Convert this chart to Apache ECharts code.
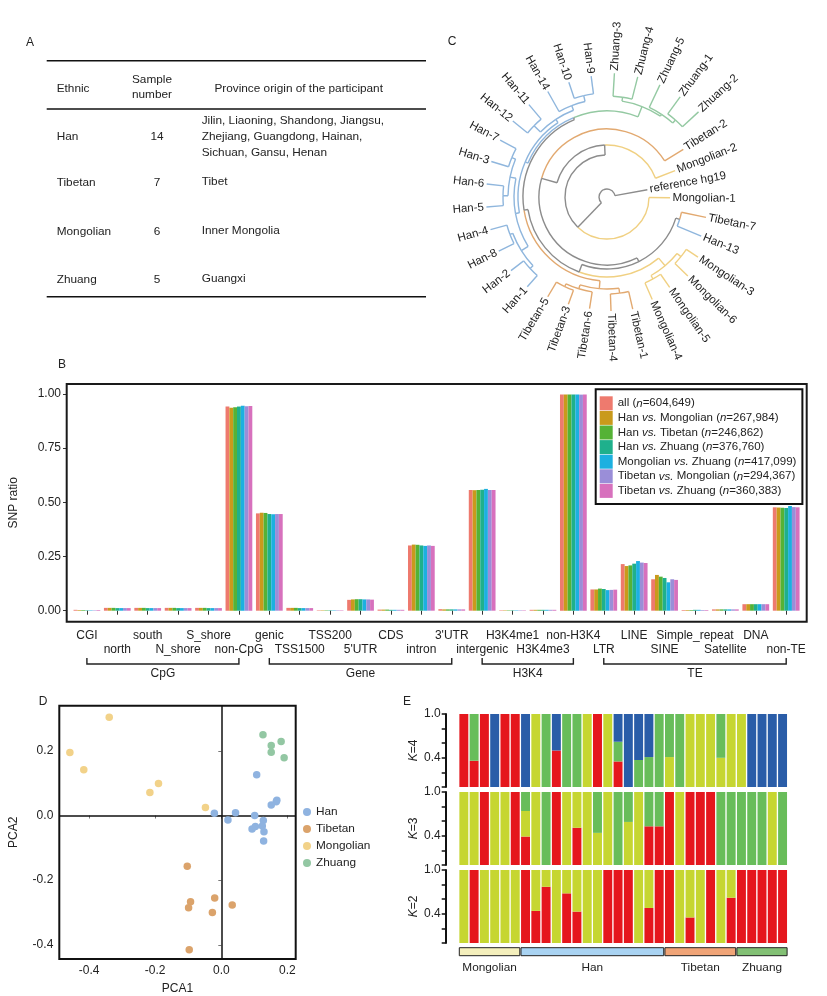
<!DOCTYPE html>
<html><head><meta charset="utf-8">
<script src="https://cdn.jsdelivr.net/npm/echarts@6/dist/echarts.min.js"></script>
<style>html,body{margin:0;padding:0;background:#fff}#c{width:827px;height:996px}</style>
</head><body><div id="c"></div>
<script>
const FF = '"Liberation Sans", Arial, Helvetica, sans-serif';

// ---------- Panel A: table ----------
const tableHeader = ['Ethnic', 'Sample\nnumber', 'Province origin of the participant'];
const tableEthnic = ['Han', 'Tibetan', 'Mongolian', 'Zhuang'];
const tableSamples = ['14', '7', '6', '5'];
const tableProvince = ['Jilin, Liaoning, Shandong, Jiangsu,\nZhejiang, Guangdong, Hainan,\nSichuan, Gansu, Henan', 'Tibet', 'Inner Mongolia', 'Guangxi'];

// ---------- Panel B: SNP ratio bars ----------
const bCategories = ['CGI','north','south','N_shore','S_shore','non-CpG','genic','TSS1500','TSS200',"5'UTR",'CDS','intron',"3'UTR",'intergenic','H3K4me1','H3K4me3','non-H3K4','LTR','LINE','SINE','Simple_repeat','Satellite','DNA','non-TE'];
const bSeriesNames = ['all (n=604,649)','Han vs. Mongolian (n=267,984)','Han vs. Tibetan (n=246,862)','Han vs. Zhuang (n=376,760)','Mongolian vs. Zhuang (n=417,099)','Tibetan vs. Mongolian (n=294,367)','Tibetan vs. Zhuang (n=360,383)'];
const bColors = ['#ee7a6e','#c99a1c','#55b236','#1fb08c','#1cb0e0','#9a8ed8','#d771bd'];
const snpAll    = [0.004,0.013,0.013,0.013,0.013,0.942,0.449,0.013,0.002,0.050,0.005,0.301,0.007,0.557,0.002,0.004,0.997,0.098,0.215,0.145,0.003,0.006,0.030,0.477];
const snpHanMon = [0.003,0.013,0.013,0.013,0.013,0.936,0.452,0.013,0.002,0.052,0.005,0.305,0.006,0.556,0.002,0.004,0.997,0.098,0.206,0.165,0.003,0.006,0.030,0.476];
const snpHanTib = [0.003,0.013,0.013,0.013,0.013,0.939,0.451,0.013,0.002,0.053,0.005,0.304,0.006,0.557,0.002,0.004,0.997,0.102,0.209,0.157,0.003,0.006,0.030,0.475];
const snpHanZhu = [0.002,0.012,0.012,0.012,0.012,0.942,0.446,0.012,0.002,0.053,0.004,0.301,0.006,0.558,0.002,0.004,0.997,0.100,0.217,0.151,0.004,0.006,0.030,0.474];
const snpMonZhu = [0.002,0.012,0.012,0.012,0.012,0.946,0.445,0.012,0.002,0.052,0.004,0.299,0.006,0.562,0.002,0.004,0.997,0.095,0.229,0.131,0.004,0.006,0.030,0.483];
const snpTibMon = [0.002,0.012,0.012,0.012,0.012,0.943,0.446,0.012,0.002,0.052,0.004,0.301,0.006,0.557,0.002,0.004,0.997,0.096,0.222,0.145,0.003,0.006,0.030,0.478];
const snpTibZhu = [0.003,0.012,0.012,0.012,0.012,0.945,0.446,0.012,0.002,0.051,0.004,0.299,0.006,0.557,0.002,0.004,0.997,0.097,0.220,0.142,0.003,0.006,0.030,0.477];
const bValues = [snpAll, snpHanMon, snpHanTib, snpHanZhu, snpMonZhu, snpTibMon, snpTibZhu];
const bTicks = [0, 0.25, 0.5, 0.75, 1];
const bGroups = [[0, 5, 'CpG'], [6, 12, 'Gene'], [13, 16, 'H3K4'], [17, 23, 'TE']];

// ---------- Panel C: circular tree ----------
const treeLeaves = ['Mongolian-1','Tibetan-7','Han-13','Mongolian-3','Mongolian-6','Mongolian-5','Mongolian-4','Tibetan-1','Tibetan-4','Tibetan-6','Tibetan-3','Tibetan-5','Han-1','Han-2','Han-8','Han-4','Han-5','Han-6','Han-3','Han-7','Han-12','Han-11','Han-14','Han-10','Han-9','Zhuang-3','Zhuang-4','Zhuang-5','Zhuang-1','Zhuang-2','Tibetan-2','Mongolian-2','reference hg19'];
const leafDepth = [63,101,102,109,113,110,112,115,114,113,114,116, 120,121,121,121,121,121,121,121,121,121,121,121,122, 124,124,124,124,125, 90,73,41];
// [nodeDepth, child, child]
const treeTopology =
[8, 'reference hg19',
 [42, 'Mongolian-1',
  [52, 'Mongolian-2',
   [68, 'Tibetan-2',
    [72,
     [76, 'Tibetan-7', 'Han-13'],
     [80,
      [90, [95, 'Mongolian-3', 'Mongolian-6'], [94, 'Mongolian-5', 'Mongolian-4']],
      [84,
       [92, [97, 'Tibetan-1', 'Tibetan-4'], [96, 'Tibetan-6', [99, 'Tibetan-3', 'Tibetan-5']]],
       [86,
        [89,
         [93, [101, [105, 'Han-1', 'Han-2'], [104, 'Han-8', 'Han-4']], [99, [104, 'Han-5', 'Han-6'], [103, 'Han-3', 'Han-7']]],
         [93, [102, 'Han-12', 'Han-11'], [98, 'Han-14', [104, 'Han-10', 'Han-9']]]
        ],
        [97, [101, 'Zhuang-3', 'Zhuang-4'], [99, 'Zhuang-5', [103, 'Zhuang-1', 'Zhuang-2']]]
       ]
      ]
     ]
    ]
   ]
  ]
 ]
];
const treeColors = {Han:'#8fb6dd', Zhuang:'#94c9a2', Tibetan:'#e2a970', Mongolian:'#f0d082', reference:'#8c8c8c'};
const treeGray = '#8c8c8c';

// ---------- Panel D: PCA ----------
const pcaHan = [[0.107,0.126],[0.168,0.047],[0.166,0.043],[0.151,0.033],[-0.021,0.007],[0.043,0.009],[0.020,-0.014],[0.101,0.000],[0.127,-0.015],[0.093,-0.042],[0.103,-0.034],[0.124,-0.032],[0.129,-0.050],[0.128,-0.079]];
const pcaTibetan = [[-0.103,-0.157],[-0.093,-0.267],[-0.099,-0.285],[-0.020,-0.255],[-0.027,-0.300],[0.033,-0.277],[-0.097,-0.415]];
const pcaMongolian = [[-0.339,0.304],[-0.458,0.195],[-0.416,0.142],[-0.190,0.099],[-0.216,0.071],[-0.048,0.025]];
const pcaZhuang = [[0.126,0.250],[0.151,0.217],[0.151,0.196],[0.181,0.229],[0.190,0.179]];
const pcaNames = ['Han','Tibetan','Mongolian','Zhuang'];
const pcaColors = ['#8fb3e0','#dba36b','#f2d289','#93c7a3'];
const pcaTicks = [-0.4, -0.2, 0, 0.2];

// ---------- Panel E: admixture ----------
const admixSamples = Array.from({length: 32}, (_, i) => 'S' + (i + 1));
const k4Red    = [1,.36,1,0,1,1, 0,0,0,.5,0,0,0,1,0,.35,0,0,0,0, 0,0,0,0,0,0,0, 0,0,0,0,0];
const k4Yellow = [0,0,0,0,0,0, 0,1,0,0,0,0,1,0,1,0,0,0,0,0, .41,0,1,1,1,.40,1, 1,0,0,0,0];
const k4Green  = [0,.64,0,0,0,0, 0,0,1,0,1,1,0,0,0,.27,0,.37,.41,1, .59,1,0,0,0,.60,0, 0,0,0,0,0];
const k4Blue   = [0,0,0,1,0,0, 1,0,0,.5,0,0,0,0,0,.38,1,.63,.59,0, 0,0,0,0,0,0,0, 0,1,1,1,1];
const k3Red    = [0,0,1,0,0,1, .39,0,0,1,0,.51,0,0,0,0,0,0,.53,.53, 1,0,1,1,1,0,0, 0,0,0,0,0];
const k3Yellow = [1,1,0,1,1,0, .35,1,0,0,1,.49,1,.44,1,0,.59,1,0,0, 0,1,0,0,0,0,0, 0,0,0,1,0];
const k3Green  = [0,0,0,0,0,0, .26,0,1,0,0,0,0,.56,0,1,.41,0,.47,.47, 0,0,0,0,0,1,1, 1,1,1,0,1];
const k2Red    = [0,1,0,0,0,0, 1,.44,.77,0,.68,.43,0,0,1,1,1,0,.48,1, 1,0,.35,0,1,0,.62, 1,1,1,1,1];
const k2Yellow = [1,0,1,1,1,1, 0,.56,.23,1,.32,.57,1,1,0,0,0,1,.52,0, 0,1,.65,1,0,1,.38, 0,0,0,0,0];
const admixColors = {red:'#e5171d', yellow:'#c6d631', green:'#68bd5a', blue:'#2a5da8'};
const admixGroups = [[0, 5, 'Mongolian'], [6, 19, 'Han'], [20, 26, 'Tibetan'], [27, 31, 'Zhuang']];
const admixGroupColors = ['#f4efbc', '#a9d3f2', '#f0a477', '#82c074'];

// ---------- tree layout (topology -> edges) ----------
function leafGroup(name) { return name.split(/[- ]/)[0]; }
const treeEdges = [];
function layoutTree(node) {
  if (typeof node === 'string') {
    const i = treeLeaves.indexOf(node);
    return {slot: i + 1, depth: leafDepth[i], groups: new Set([leafGroup(node)])};
  }
  const kids = node.slice(1).map(layoutTree);
  const slot = kids.reduce((s, k) => s + k.slot, 0) / kids.length;
  const groups = new Set();
  kids.forEach(k => k.groups.forEach(g => groups.add(g)));
  kids.forEach(k => {
    const col = k.groups.size === 1 ? treeColors[[...k.groups][0]] : treeGray;
    treeEdges.push({pDepth: node[0], pSlot: slot, depth: k.depth, slot: k.slot, color: col});
  });
  return {slot, depth: node[0], groups};
}
layoutTree(treeTopology);

function renderEdge(params, api) {
  const e = treeEdges[api.value(2)];
  const cs = params.coordSys;
  const cx = cs.cx, cy = cs.cy;
  const p0 = api.coord([e.pDepth, e.slot]);
  const p1 = api.coord([e.depth, e.slot]);
  const st = {stroke: e.color, lineWidth: 1.4, fill: null};
  const children = [{type: 'line', shape: {x1: p0[0], y1: p0[1], x2: p1[0], y2: p1[1]}, style: st}];
  const q = api.coord([e.pDepth, e.pSlot]);
  const r = Math.hypot(p0[0] - cx, p0[1] - cy);
  if (r > 0.5) {
    const aC = Math.atan2(p0[1] - cy, p0[0] - cx);
    const aP = Math.atan2(q[1] - cy, q[0] - cx);
    let start = e.slot < e.pSlot ? aC : aP;
    let end = e.slot < e.pSlot ? aP : aC;
    while (end < start) end += 2 * Math.PI;
    children.push({type: 'arc', shape: {cx, cy, r, startAngle: start, endAngle: end, clockwise: true}, style: st});
  }
  return {type: 'group', children};
}
function renderLeaf(params, api) {
  const i = api.value(2);
  const cs = params.coordSys;
  const p = api.coord([api.value(0), api.value(1)]);
  const a = Math.atan2(p[1] - cs.cy, p[0] - cs.cx);
  const left = Math.cos(a) < -0.001;
  return {type: 'text', x: p[0], y: p[1], rotation: left ? Math.PI - a : -a,
    style: {text: treeLeaves[i], align: left ? 'right' : 'left', verticalAlign: 'middle', fontSize: 11.5, fontFamily: FF, fill: '#222'}};
}

// ---------- graphic: table, panel letters, frame ----------
const graphic = [];
const tLine = (y) => ({type: 'line', shape: {x1: 46.7, y1: y, x2: 426, y2: y}, style: {stroke: '#111', lineWidth: 1.6}});
graphic.push(tLine(60.7), tLine(109), tLine(296.7));
const txt = (t, x, y, align) => ({type: 'text', x, y, style: {text: t, align: align || 'left', verticalAlign: 'middle', fontSize: 11.8, fontFamily: FF, fill: '#222', lineHeight: 15.7}});
graphic.push(txt(tableHeader[0], 56.7, 89), txt(tableHeader[1], 152, 87.2, 'center'), txt(tableHeader[2], 298.7, 89, 'center'));
const rowY = [137, 182.5, 231.3, 280];
tableEthnic.forEach((e, i) => {
  graphic.push(txt(e, 56.7, rowY[i]));
  graphic.push(txt(tableSamples[i], 157, rowY[i], 'center'));
  const g = txt(tableProvince[i], 201.7, rowY[i] - (i === 0 ? 0.5 : 1), 'left');
  g.style.lineHeight = 16;
  graphic.push(g);
});
[['A', 30, 43], ['B', 62, 365], ['C', 452, 42], ['D', 43, 702], ['E', 407, 702]].forEach(l => {
  graphic.push({type: 'text', x: l[1], y: l[2], style: {text: l[0], align: 'center', verticalAlign: 'middle', fontSize: 12, fontFamily: FF, fill: '#222'}});
});
graphic.push({type: 'rect', shape: {x: 66.7, y: 384, width: 740, height: 237.7}, style: {fill: null, stroke: '#1a1a1a', lineWidth: 2}, z: 10});

// ---------- series ----------
const series = [];
bValues.forEach((vals, i) => {
  series.push({name: bSeriesNames[i], type: 'bar', xAxisIndex: 0, yAxisIndex: 0, data: vals,
    itemStyle: {color: bColors[i]}, barGap: '0%', barCategoryGap: '12%', silent: true});
});
series.push({type: 'custom', name: 'brackets', xAxisIndex: 0, yAxisIndex: 0, clip: false, silent: true,
  data: bGroups.map((g, i) => [g[0], g[1], i]),
  renderItem: (params, api) => {
    const g = bGroups[api.value(2)];
    const a = api.coord([g[0], 0]), b = api.coord([g[1], 0]);
    const y = 664;
    return {type: 'group', children: [
      {type: 'polyline', shape: {points: [[a[0], y - 6], [a[0], y], [b[0], y], [b[0], y - 6]]}, style: {stroke: '#222', lineWidth: 1.4, fill: null}},
      {type: 'text', x: (a[0] + b[0]) / 2, y: y + 9.5, style: {text: g[2], align: 'center', verticalAlign: 'middle', fontSize: 12, fontFamily: FF, fill: '#222'}}
    ]};
  }});

// PCA
[pcaHan, pcaTibetan, pcaMongolian, pcaZhuang].forEach((d, i) => {
  const s = {name: pcaNames[i], type: 'scatter', xAxisIndex: 1, yAxisIndex: 1, data: d, symbolSize: 7.5,
    itemStyle: {color: pcaColors[i], opacity: 1}, silent: true, z: 3};
  if (i === 0) {
    s.markLine = {silent: true, symbol: 'none', label: {show: false}, lineStyle: {color: '#111', type: 'solid', width: 1.5},
      data: [{xAxis: 0}, {yAxis: 0}], z: 2};
  }
  series.push(s);
});

// Admixture
const admixRows = [
  [k4Red, k4Yellow, k4Green, k4Blue],
  [k3Red, k3Yellow, k3Green],
  [k2Red, k2Yellow]
];
const admixColorOrder = ['red', 'yellow', 'green', 'blue'];
admixRows.forEach((row, r) => {
  row.forEach((vals, c) => {
    series.push({name: 'K' + r + admixColorOrder[c], type: 'bar', stack: 'k' + r, xAxisIndex: 2 + r, yAxisIndex: 2 + r,
      data: vals, itemStyle: {color: admixColors[admixColorOrder[c]]}, barCategoryGap: '13%', silent: true});
  });
});
series.push({type: 'custom', name: 'groups', xAxisIndex: 4, yAxisIndex: 4, clip: false, silent: true,
  data: admixGroups.map((g, i) => [g[0], 0, g[1], i]),
  renderItem: (params, api) => {
    const gi = api.value(3);
    const g = admixGroups[gi];
    const band = api.size([1, 0])[0];
    const p1 = api.coord([g[0], 0]), p2 = api.coord([g[1], 0]);
    const x1 = p1[0] - band / 2 + 0.6, x2 = p2[0] + band / 2 - 0.6;
    const y = p1[1] + 4.7;
    return {type: 'group', children: [
      {type: 'rect', shape: {x: x1, y: y, width: x2 - x1, height: 8}, style: {fill: admixGroupColors[gi], stroke: '#222', lineWidth: 1}},
      {type: 'text', x: (x1 + x2) / 2, y: y + 20.5, style: {text: g[2], align: 'center', verticalAlign: 'middle', fontSize: 11.8, fontFamily: FF, fill: '#222'}}
    ]};
  }});

// Tree
series.push({type: 'custom', name: 'tree', coordinateSystem: 'polar', polarIndex: 0, clip: false, silent: true,
  data: treeEdges.map((e, i) => [e.depth, e.slot, i]), renderItem: renderEdge});
series.push({type: 'custom', name: 'leaves', coordinateSystem: 'polar', polarIndex: 0, clip: false, silent: true,
  data: treeLeaves.map((n, i) => [leafDepth[i] + 2.5, i + 1, i]), renderItem: renderLeaf});

// ---------- axes ----------
const axisText = {fontSize: 12, fontFamily: FF, color: '#222'};
const eGrids = [714, 792, 870].map(t => ({left: 458.7, width: 329, top: t, height: 73}));
const kNames = ['{i|K}=4', '{i|K}=3', '{i|K}=2'];

const option = {
  backgroundColor: '#fff',
  animation: false,
  textStyle: {fontFamily: FF},
  graphic: graphic,
  grid: [
    {left: 71.4, width: 730, top: 384, height: 237.7},
    {left: 59.3, width: 236.4, top: 705.7, height: 253.6, show: true, borderColor: '#111', borderWidth: 2, backgroundColor: 'transparent'}
  ].concat(eGrids),
  polar: [{center: [607, 197], radius: 130}],
  radiusAxis: [{polarIndex: 0, type: 'value', min: 0, max: 130, show: false}],
  angleAxis: [{polarIndex: 0, type: 'value', min: 0, max: 33, startAngle: 10.2, clockwise: true, show: false}],
  xAxis: [
    {gridIndex: 0, type: 'category', data: bCategories, axisLine: {show: false},
      axisTick: {show: true, alignWithLabel: true, length: 4, lineStyle: {color: '#333', width: 1}},
      axisLabel: Object.assign({}, axisText, {interval: 0, margin: 7, lineHeight: 14,
        formatter: (v, i) => (i % 2 === 1 ? '\n' + v : v)})},
    {gridIndex: 1, type: 'value', min: -0.49, max: 0.225, splitLine: {show: false}, axisLine: {show: false},
      axisTick: {show: true, length: 3, lineStyle: {color: '#777'}, customValues: pcaTicks},
      axisLabel: Object.assign({}, axisText, {margin: 6, customValues: pcaTicks, formatter: v => v.toFixed(1)}),
      name: 'PCA1', nameLocation: 'middle', nameGap: 24, nameTextStyle: {fontSize: 12, fontFamily: FF, color: '#222'}}
  ].concat([2, 3, 4].map(g => ({gridIndex: g, type: 'category', data: admixSamples, show: false}))),
  yAxis: [
    {gridIndex: 0, type: 'value', min: -0.0508, max: 1.046, offset: 4.7, splitLine: {show: false}, axisLine: {show: false},
      axisTick: {show: true, length: 4, lineStyle: {color: '#333'}, customValues: bTicks},
      axisLabel: Object.assign({}, axisText, {margin: 6, customValues: bTicks, formatter: v => v.toFixed(2)}),
      name: 'SNP ratio', nameLocation: 'middle', nameGap: 47, nameTextStyle: {fontSize: 12, fontFamily: FF, color: '#222'}},
    {gridIndex: 1, type: 'value', min: -0.444, max: 0.340, splitLine: {show: false}, axisLine: {show: false},
      axisTick: {show: true, length: 3, lineStyle: {color: '#777'}, customValues: pcaTicks},
      axisLabel: Object.assign({}, axisText, {margin: 6, customValues: pcaTicks, formatter: v => v.toFixed(1)}),
      name: 'PCA2', nameLocation: 'middle', nameGap: 40, nameTextStyle: {fontSize: 12, fontFamily: FF, color: '#222'}}
  ].concat([2, 3, 4].map((g, k) => ({gridIndex: g, type: 'value', min: 0, max: 1, interval: 0.2, offset: 13,
      splitLine: {show: false},
      axisLine: {show: true, lineStyle: {color: '#111', width: 2}},
      axisTick: {show: true, length: 4, lineStyle: {color: '#111', width: 1.5}},
      axisLabel: Object.assign({}, axisText, {margin: 5, formatter: v => (Math.abs(v - 1) < 1e-6 ? '1.0' : (Math.abs(v - 0.4) < 1e-6 ? '0.4' : ''))}),
      name: kNames[k], nameLocation: 'middle', nameGap: 25,
      nameTextStyle: {fontSize: 12, fontFamily: FF, color: '#222', rich: {i: {fontStyle: 'italic', fontSize: 12, fontFamily: FF, color: '#222'}}}}))),
  legend: [
    {data: bSeriesNames, orient: 'vertical', left: 595.7, top: 389.3, itemWidth: 13, itemHeight: 14, itemGap: 0.6,
      padding: [7, 6, 6, 4], borderColor: '#111', borderWidth: 2, backgroundColor: '#fff', icon: 'rect', selectedMode: false,
      formatter: n => n.replace(' vs. ', ' {i|vs.} ').replace('(n=', '({i|n}='),
      textStyle: {fontSize: 11.5, fontFamily: FF, color: '#222', lineHeight: 14,
        rich: {i: {fontStyle: 'italic', fontSize: 11.5, fontFamily: FF, color: '#222', lineHeight: 14}}}},
    {data: pcaNames, orient: 'vertical', left: 298, top: 800, itemWidth: 8, itemHeight: 8, itemGap: 3, icon: 'circle',
      selectedMode: false, textStyle: {fontSize: 11.8, fontFamily: FF, color: '#222', lineHeight: 14}}
  ],
  series: series
};

const chart = echarts.init(document.getElementById('c'), null, {renderer: 'canvas'});
chart.setOption(option);
</script></body></html>
